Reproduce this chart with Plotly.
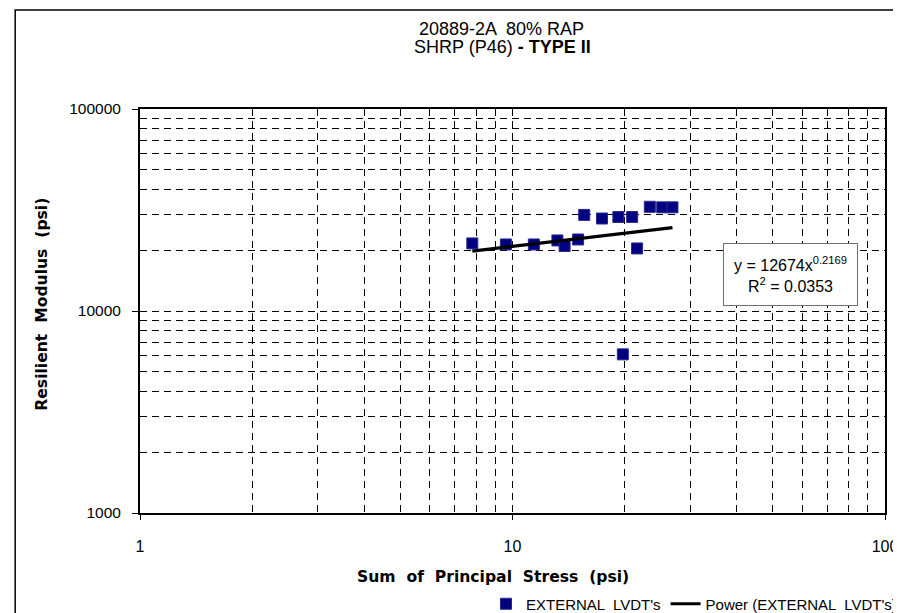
import plotly.graph_objects as go

# ---- data ----
stress_psi = [7.80, 9.60, 11.41, 13.20, 13.80, 15.00, 15.58, 17.39, 19.24, 20.95,
              21.60, 19.78, 23.37, 25.23, 26.88]
modulus_psi = [21600, 21350, 21350, 22350, 20980, 22600, 29900, 28700, 29200, 29200,
               20400, 6100, 32800, 32600, 32600]

# power trendline as printed on the chart: y = a * x^b
trend_a = 12674
trend_b = 0.2169
trend_r2 = 0.0353

x_major = [1, 10, 100]
x_minor = [2, 3, 4, 5, 6, 7, 8, 9, 20, 30, 40, 50, 60, 70, 80, 90]
y_major = [1000, 10000, 100000]
y_minor = [2000, 3000, 4000, 5000, 6000, 7000, 8000, 9000,
           20000, 30000, 40000, 50000, 60000, 70000, 80000, 90000]

title_line1 = "20889-2A  80% RAP"
title_line2 = "SHRP (P46) <b>- TYPE II</b>"
x_title = "Sum  of  Principal  Stress  (psi)"
y_title = "Resilient  Modulus  (psi)"
series_name = "EXTERNAL  LVDT's"
trend_name = "Power (EXTERNAL  LVDT's)"

trend_x = [min(stress_psi), max(stress_psi)]
trend_y = [trend_a * v ** trend_b for v in trend_x]

FONT = "Liberation Sans, Arial, sans-serif"
BOLDFONT = "DejaVu Sans, Arial Black, sans-serif"

fig = go.Figure()
fig.add_trace(go.Scatter(
    x=stress_psi, y=modulus_psi, mode="markers", name=series_name,
    marker=dict(symbol="square", size=11, color="#000080",
                line=dict(color="#2a2a90", width=1)),
))
fig.add_trace(go.Scatter(
    x=trend_x, y=trend_y, mode="lines", name=trend_name,
    line=dict(color="black", width=3.2),
))

L, R, T, B = 132, 11, 101, 108
W, H = 901, 613
pw, ph = W - L - R, H - T - B

def px(x):
    return (x - L) / pw

def py(y):
    return (H - B - y) / ph

grid = dict(showgrid=True, gridcolor="black", gridwidth=1, griddash="7px,5px")

fig.update_xaxes(
    type="log", range=[0, 2], tickvals=x_major, ticktext=[str(v) for v in x_major],
    ticks="outside", ticklen=5, tickcolor="black",
    showline=True, linecolor="black", linewidth=2, mirror=True,
    tickfont=dict(family=FONT, size=16, color="black"),
    ticklabelstandoff=13, ticklabeloverflow="allow",
    minor=dict(tickvals=x_minor, ticks="", **grid),
    zeroline=False, **grid,
)
fig.update_yaxes(
    type="log", range=[3, 5], tickvals=y_major, ticktext=[str(v) for v in y_major],
    ticks="outside", ticklen=6, tickcolor="black",
    showline=True, linecolor="black", linewidth=2, mirror=True,
    tickfont=dict(family=FONT, size=15.5, color="black"),
    ticklabelstandoff=8, ticklabeloverflow="allow",
    minor=dict(tickvals=y_minor, ticks="", **grid),
    zeroline=False, **grid,
)

def ann(text, x, y, size, family=FONT, **kw):
    d = dict(text=text, x=px(x), y=py(y), xref="paper", yref="paper",
             xanchor="center", yanchor="middle", showarrow=False,
             font=dict(family=family, size=size, color="black"))
    d.update(kw)
    return d

annotations = [
    ann(title_line1, 500, 21, 18),
    ann(title_line2, 501, 39, 18),
    ann("<b>" + x_title + "</b>", 491, 569, 15.6, BOLDFONT),
    ann("<b>" + y_title + "</b>", 32, 296, 15.6, BOLDFONT, textangle=-90),
    ann(f"y = {trend_a}x<sup>{trend_b}</sup><br>R<sup>2</sup> = {trend_r2}",
        793.5, 266.5, 16, width=131, height=59, borderpad=1, bgcolor="white",
        bordercolor="#707070", borderwidth=1),
]

shapes = [
    dict(type="rect", xref="paper", yref="paper",
         x0=px(5), x1=px(915), y0=py(630), y1=py(2),
         line=dict(color="black", width=1.5), fillcolor="rgba(0,0,0,0)", layer="below"),
]

fig.update_layout(
    width=W, height=H,
    margin=dict(l=L, r=R, t=T, b=B),
    paper_bgcolor="white", plot_bgcolor="white",
    annotations=annotations, shapes=shapes,
    showlegend=True,
    legend=dict(orientation="h", xref="container", yref="container",
                x=478 / W, y=1 - 596 / H, xanchor="left", yanchor="middle",
                font=dict(family=FONT, size=15, color="black"),
                bgcolor="rgba(0,0,0,0)", borderwidth=0, itemwidth=30),
)

fig.write_html("out.html")
